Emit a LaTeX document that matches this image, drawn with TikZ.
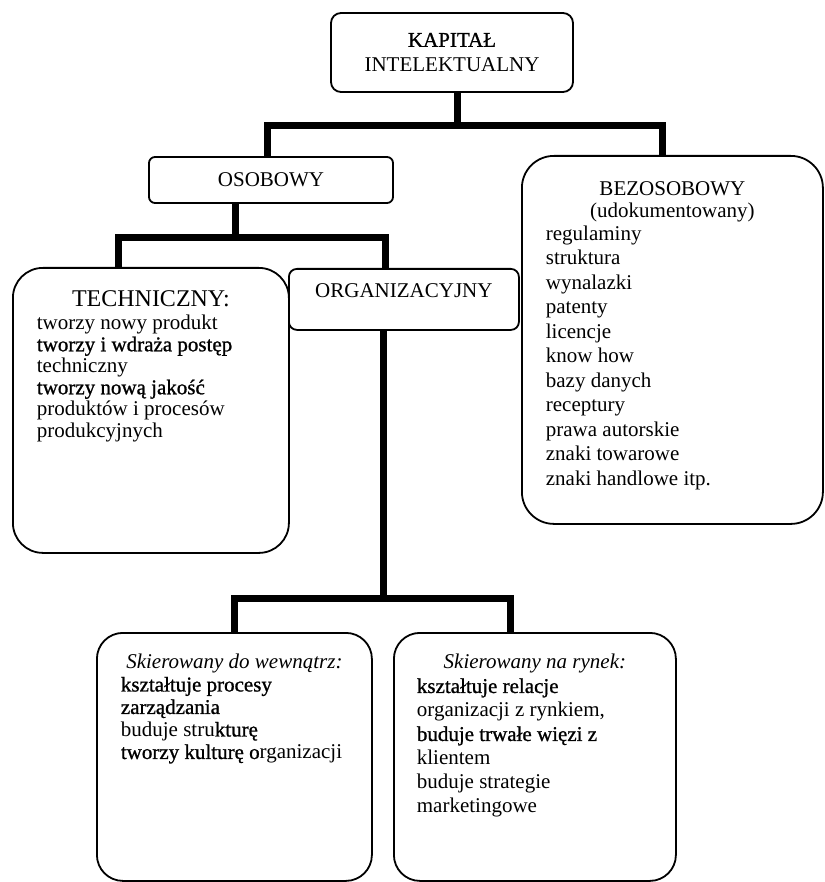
\documentclass[tikz,border=0pt]{standalone}
\usepackage{fontspec}
\setmainfont{Liberation Serif}
\newfontface\hvy{Liberation Serif}[FakeBold=1]

\tikzset{kbox/.style={draw,line width=1.8pt,rounded corners=#1,fill=white,inner sep=0pt},
  kbox/.default=8pt,
  conn/.style={line width=7pt}}

\begin{document}
\begin{tikzpicture}[x=1pt,y=-1pt,font=\fontsize{21}{23}\selectfont]
	\useasboundingbox (0,0) rectangle (824,882);
	% top
	\node[kbox=10pt,align=center,minimum width=242pt,minimum height=79pt,font=\fontsize{21}{25}\selectfont] (kapital) at (452,52.5) {{\hvy KAPITAŁ}\\INTELEKTUALNY};
	\node[kbox=6pt,minimum width=244pt,minimum height=46pt] (osobowy) at (271,180) {OSOBOWY};
	\node[kbox=32pt,anchor=north west,inner xsep=24pt] (bezosobowy) at (521,155) {\parbox[c][368pt][t]{253pt}{\vspace*{26pt}%
		{\centering\fontsize{21}{21.7}\selectfont BEZOSOBOWY\\(udokumentowany)\par}\vspace{-2pt}
		\raggedright\fontsize{21}{24.5}\selectfont regulaminy\\struktura\\wynalazki\\patenty\\licencje\\know how\\bazy danych\\receptury\\prawa autorskie\\znaki towarowe\\znaki handlowe itp.}};
	% middle
	\node[kbox=30pt,anchor=north west,inner xsep=24pt] (techniczny) at (12,267) {\parbox[c][285pt][t]{228pt}{\vspace*{23pt}%
		{\centering\fontsize{24}{24}\selectfont TECHNICZNY:\par}\vspace{1.5pt}
		\raggedright\fontsize{21}{21.5}\selectfont tworzy nowy produkt\\{\hvy tworzy i wdraża postęp}\\techniczny\\{\hvy tworzy nową jakość}\\produktów i procesów\\produkcyjnych}};
	\node[kbox=8pt,anchor=north west] (organizacyjny) at (288,268) {\parbox[c][61pt][t]{230pt}{\centering\vspace*{15pt}ORGANIZACYJNY}};
	% bottom
	\node[kbox=26pt,anchor=north west,inner xsep=24pt] (wewn) at (96,632) {\parbox[c][248pt][t]{227pt}{\vspace*{21.5pt}%
		{\centering\itshape Skierowany do wewnątrz:\par}
		\raggedright\fontsize{21}{22.5}\selectfont{\hvy kształtuje procesy}\\{\hvy zarządzania}\\buduje stru{\hvy kturę}\\{\hvy tworzy kulturę o}rganizacji}};
	\node[kbox=26pt,anchor=north west,inner xsep=23pt] (rynek) at (393,632) {\parbox[c][248pt][t]{236pt}{\vspace*{21.5pt}%
		{\centering\itshape Skierowany na rynek:\par}
		\raggedright\fontsize{21}{24}\selectfont{\hvy kształtuje relacje}\\organizacji z rynkiem,\\{\hvy buduje trwałe więzi z}\\klientem\\buduje strategie\\marketingowe}};
	% connectors
	\draw[conn] ([xshift=5pt]kapital.south) -- ++(0,34);
	\draw[conn] ([xshift=-4pt]osobowy.north) -- ++(0,-31) -| ([xshift=-9.5pt]bezosobowy.north);
	\draw[conn] ([xshift=-36pt]osobowy.south) -- ++(0,35);
	\draw[conn] ([xshift=-32pt]techniczny.north) -- ++(0,-29) -| ([xshift=-18pt]organizacyjny.north);
	\draw[conn] ([xshift=-20pt]organizacyjny.south) -- ++(0,269);
	\draw[conn] (wewn.north) -- ++(0,-34) -| ([xshift=-24pt]rynek.north);
\end{tikzpicture}
\end{document}
